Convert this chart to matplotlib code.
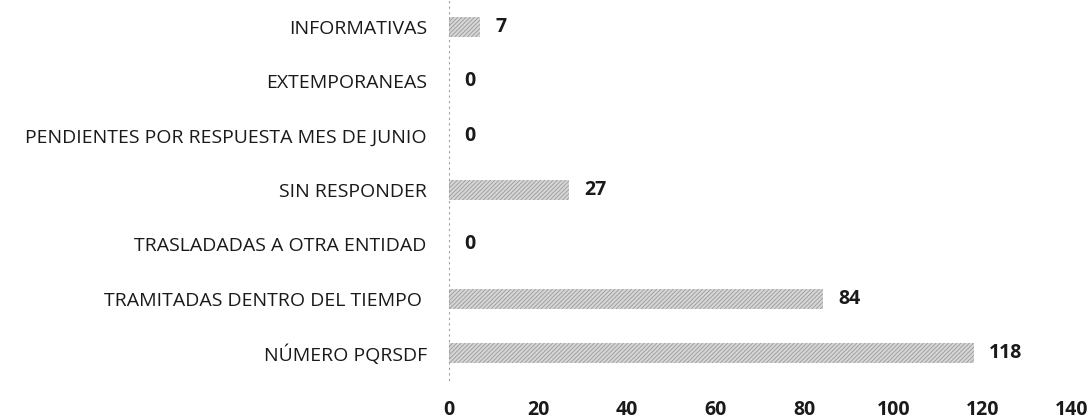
import matplotlib
matplotlib.use("Agg")
import matplotlib.pyplot as plt

categories = ["NÚMERO PQRSDF", "TRAMITADAS DENTRO DEL TIEMPO ", "TRASLADADAS A OTRA ENTIDAD",
              "SIN RESPONDER", "PENDIENTES POR RESPUESTA MES DE JUNIO", "EXTEMPORANEAS", "INFORMATIVAS"]
values = [118, 84, 0, 27, 0, 0, 7]
xticks = [0, 20, 40, 60, 80, 100, 120, 140]

plt.rcParams['font.family'] = ['Open Sans', 'DejaVu Sans']
plt.rcParams['hatch.linewidth'] = 0.6

fig = plt.figure(figsize=(10.91, 4.2), dpi=100)
ax = fig.add_axes([449 / 1091, 0.095, 0.571, 0.905])

ypos = list(range(len(categories)))
ax.barh(ypos, values, height=0.37, color='#d6d6d6', hatch='////////', edgecolor='#9a9a9a', linewidth=0)

for y, v in zip(ypos, values):
    ax.annotate(str(v), (v, y), xytext=(11, 0), textcoords='offset points',
                va='center', ha='left', fontsize=14, fontweight='bold', color='#1a1a1a')

ax.set_xlim(0, 140)
ax.set_ylim(-0.5, len(categories) - 0.5)
ax.set_xticks(xticks)
ax.set_xticklabels([str(t) for t in xticks], fontsize=14, fontweight='bold', color='#1a1a1a')
ax.set_yticks(ypos)
ax.set_yticklabels(categories, fontsize=14, color='#1a1a1a')
ax.tick_params(axis='x', length=0, pad=14)
ax.tick_params(axis='y', length=0, pad=16)

for s in ['top', 'right', 'bottom']:
    ax.spines[s].set_visible(False)
ax.spines['left'].set_color('#a0a0a0')
ax.spines['left'].set_linestyle((0, (1, 4)))
ax.spines['left'].set_linewidth(0.8)

fig.savefig("out.png", dpi=100)
